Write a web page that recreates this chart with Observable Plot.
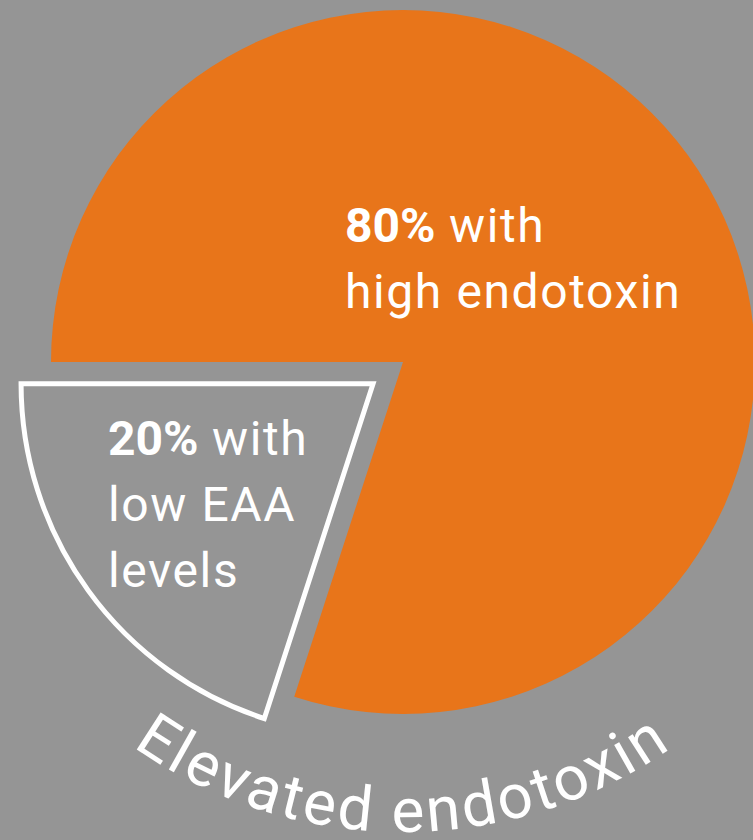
<!DOCTYPE html>
<html><head><meta charset="utf-8">
<script src="https://cdn.jsdelivr.net/npm/d3@7"></script>
<script src="https://cdn.jsdelivr.net/npm/@observablehq/plot@0.6"></script>
<style>
html,body{margin:0;padding:0;background:#959595;overflow:hidden;}
#chart svg{display:block;}
</style></head><body><div id="chart"></div>
<script>
// ---- data ----
const categories = ["High endotoxin", "Low EAA levels"];
const values = [80, 20];
const percentLabels = ["80%", "20%"];
const labelLines = [["with", "high endotoxin"], ["with", "low EAA", "levels"]];
const explodedFlags = [false, true];
const arcTitle = "Elevated endotoxin";

// ---- layout / style ----
const W = 753, H = 840;
const BG = "#959595", ORANGE = "#E8751A";
const layout = {
  cx: 403, cy: 362, r: 352, explode: 37, strokeW: 5,
  titleR: 470, titleSize: 62,
  labelSize: 48,
  labels: [
    {x: 345, y: 242, lh: 66},
    {x: 108, y: 455, lh: 66}
  ]
};
const FONT = "Roboto, 'Noto Sans', sans-serif";

const rows = categories.map((c, i) => ({category: c, value: values[i], pct: percentLabels[i], lines: labelLines[i], exploded: explodedFlags[i]}));

function pieMark() {
  const g = d3.create("svg:g");
  const pie = d3.pie().sort(null).value(d => d.value).startAngle(-Math.PI / 2).endAngle(1.5 * Math.PI);
  const arcs = pie(rows);
  const arc = d3.arc().innerRadius(0).outerRadius(layout.r);
  const root = g.append("g").attr("transform", `translate(${layout.cx},${layout.cy})`);
  arcs.forEach(a => {
    const mid = (a.startAngle + a.endAngle) / 2;
    const dx = a.data.exploded ? Math.sin(mid) * layout.explode : 0;
    const dy = a.data.exploded ? -Math.cos(mid) * layout.explode : 0;
    root.append("path")
      .attr("d", arc(a))
      .attr("transform", `translate(${dx},${dy})`)
      .attr("fill", a.data.exploded ? BG : ORANGE)
      .attr("stroke", a.data.exploded ? "#fff" : "none")
      .attr("stroke-width", a.data.exploded ? layout.strokeW : 0)
      .attr("stroke-linejoin", "miter");
  });
  // labels
  rows.forEach((d, i) => {
    const L = layout.labels[i];
    const t = g.append("text")
      .attr("font-family", FONT).attr("font-size", layout.labelSize)
      .attr("text-anchor", "start").attr("font-weight", 400)
      .attr("fill", "#fff").attr("letter-spacing", 1.6);
    d.lines.forEach((line, j) => {
      const ts = t.append("tspan").attr("x", L.x).attr("y", L.y + j * L.lh);
      if (j === 0) {
        ts.append("tspan").attr("font-weight", 700).attr("letter-spacing", 0).text(d.pct);
        ts.append("tspan").text(" " + line);
      } else ts.text(line);
    });
  });
  // curved title
  const R = layout.titleR, a0 = 150 * Math.PI / 180, a1 = 30 * Math.PI / 180;
  const p0 = [layout.cx + R * Math.cos(a0), layout.cy + R * Math.sin(a0)];
  const p1 = [layout.cx + R * Math.cos(a1), layout.cy + R * Math.sin(a1)];
  g.append("defs").append("path").attr("id", "titleArc")
    .attr("d", `M${p0[0]},${p0[1]} A${R},${R} 0 0 0 ${p1[0]},${p1[1]}`);
  g.append("text")
    .attr("font-family", FONT).attr("font-size", layout.titleSize).attr("fill", "#fff")
    .attr("font-weight", 400).attr("letter-spacing", 3)
    .append("textPath").attr("href", "#titleArc").attr("startOffset", "50%").attr("text-anchor", "middle")
    .text(arcTitle);
  return g.node();
}

const chart = Plot.plot({
  width: W, height: H, margin: 0,
  style: {background: BG, overflow: "visible"},
  x: {axis: null}, y: {axis: null},
  marks: [pieMark]
});
document.getElementById("chart").appendChild(chart);
</script>
</body></html>
